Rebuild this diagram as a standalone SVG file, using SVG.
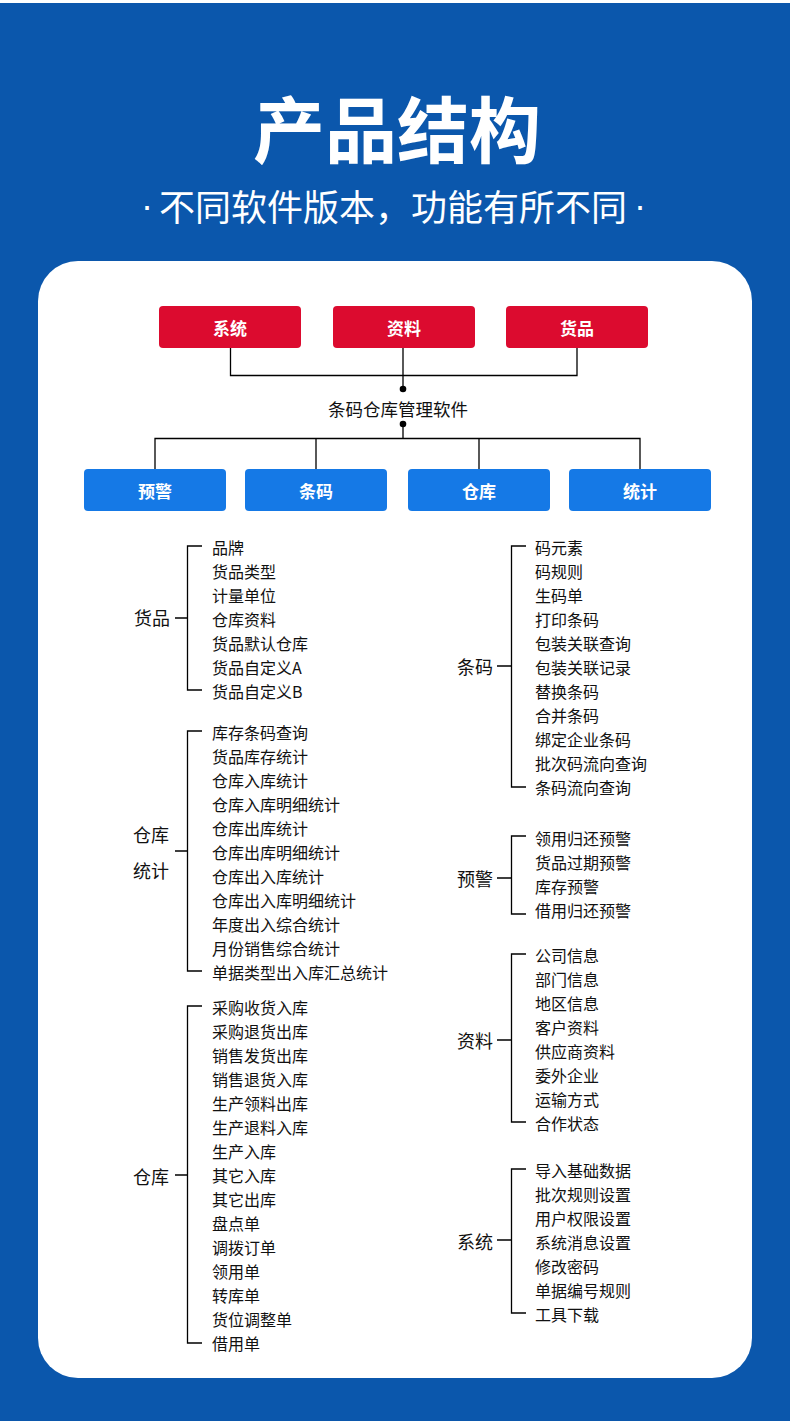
<svg xmlns="http://www.w3.org/2000/svg" width="790" height="1421" viewBox="0 0 790 1421">
<style>
.t{font-family:"Noto Sans CJK SC","Noto Sans",sans-serif;dominant-baseline:central}
.title{font-size:72px;font-weight:700;fill:#fff;text-anchor:middle}
.sub{font-size:36px;fill:#fff}
.dot{font-family:"Liberation Sans",sans-serif}
.bx{font-size:17px;font-weight:700;fill:#fff;text-anchor:middle}
.root{font-size:17.5px;fill:#111;text-anchor:middle}
.lab{font-size:18px;fill:#111}
.it{font-size:16px;fill:#111}
.red{fill:#DC0B2F}
.blue{fill:#1579E6}
.ln{stroke:#000;stroke-width:1.3;fill:none}
</style>
<rect x="0" y="0" width="790" height="1421" fill="#fff"/>
<rect x="0" y="3" width="790" height="1418" fill="#0B57AC"/>
<rect x="38" y="261" width="714" height="1117" rx="40" fill="#fff"/>
<text class="t title" x="397" y="125">产品结构</text>
<text class="t sub" x="141" y="205"><tspan class="dot">·</tspan><tspan dx="6">不同软件版本，功能有所不同</tspan><tspan class="dot" dx="7">·</tspan></text>

<g id="connectors">
<path class="ln" d="M230.5 348V375.5H577V348M403 348V389"/>
<circle cx="403" cy="389" r="3.3" fill="#000"/>
<circle cx="403" cy="424" r="3.3" fill="#000"/>
<path class="ln" d="M403 424V438.5M155 469V438.5H640V469M316 438.5V469M479 438.5V469"/>
<path class="ln" d="M175 618H187.5M202 546H187.5V690H202"/>
<path class="ln" d="M175 851H187.5M202 731H187.5V971H202"/>
<path class="ln" d="M175 1175H187.5M202 1006H187.5V1343H202"/>
<path class="ln" d="M497 666H511.5M526 546H511.5V787H526"/>
<path class="ln" d="M497 878H511.5M526 836H511.5V914H526"/>
<path class="ln" d="M497 1040H511.5M526 954H511.5V1122H526"/>
<path class="ln" d="M497 1240H511.5M526 1169H511.5V1313H526"/>
</g>

<g id="n-xitong"><rect class="red" x="159" y="306" width="142" height="42" rx="4"/><text class="t bx" x="230" y="327">系统</text></g>
<g id="n-ziliao"><rect class="red" x="333" y="306" width="142" height="42" rx="4"/><text class="t bx" x="404" y="327">资料</text></g>
<g id="n-huopin"><rect class="red" x="506" y="306" width="142" height="42" rx="4"/><text class="t bx" x="577" y="327">货品</text></g>
<g id="n-root"><text class="t root" x="398" y="408.5">条码仓库管理软件</text></g>
<g id="n-yujing"><rect class="blue" x="84" y="469" width="142" height="42" rx="4"/><text class="t bx" x="155" y="490">预警</text></g>
<g id="n-tiaoma"><rect class="blue" x="245" y="469" width="142" height="42" rx="4"/><text class="t bx" x="316" y="490">条码</text></g>
<g id="n-cangku"><rect class="blue" x="408" y="469" width="142" height="42" rx="4"/><text class="t bx" x="479" y="490">仓库</text></g>
<g id="n-tongji"><rect class="blue" x="569" y="469" width="142" height="42" rx="4"/><text class="t bx" x="640" y="490">统计</text></g>

<g id="tree-huopin">
<text class="t lab" x="134" y="617">货品</text>
<text class="t it">
<tspan x="212" y="546.5">品牌</tspan><tspan x="212" y="570.5">货品类型</tspan><tspan x="212" y="594.5">计量单位</tspan><tspan x="212" y="618.5">仓库资料</tspan><tspan x="212" y="642.5">货品默认仓库</tspan><tspan x="212" y="666.5">货品自定义A</tspan><tspan x="212" y="690.5">货品自定义B</tspan>
</text>
</g>

<g id="tree-cangkutongji">
<text class="t lab" x="133" y="834">仓库</text>
<text class="t lab" x="133" y="870">统计</text>
<text class="t it">
<tspan x="212" y="731.5">库存条码查询</tspan><tspan x="212" y="755.5">货品库存统计</tspan><tspan x="212" y="779.5">仓库入库统计</tspan><tspan x="212" y="803.5">仓库入库明细统计</tspan><tspan x="212" y="827.5">仓库出库统计</tspan><tspan x="212" y="851.5">仓库出库明细统计</tspan><tspan x="212" y="875.5">仓库出入库统计</tspan><tspan x="212" y="899.5">仓库出入库明细统计</tspan><tspan x="212" y="923.5">年度出入综合统计</tspan><tspan x="212" y="947.5">月份销售综合统计</tspan><tspan x="212" y="971.5">单据类型出入库汇总统计</tspan>
</text>
</g>

<g id="tree-cangku">
<text class="t lab" x="133" y="1176">仓库</text>
<text class="t it">
<tspan x="212" y="1006.5">采购收货入库</tspan><tspan x="212" y="1030.5">采购退货出库</tspan><tspan x="212" y="1054.5">销售发货出库</tspan><tspan x="212" y="1078.5">销售退货入库</tspan><tspan x="212" y="1102.5">生产领料出库</tspan><tspan x="212" y="1126.5">生产退料入库</tspan><tspan x="212" y="1150.5">生产入库</tspan><tspan x="212" y="1174.5">其它入库</tspan><tspan x="212" y="1198.5">其它出库</tspan><tspan x="212" y="1222.5">盘点单</tspan><tspan x="212" y="1246.5">调拨订单</tspan><tspan x="212" y="1270.5">领用单</tspan><tspan x="212" y="1294.5">转库单</tspan><tspan x="212" y="1318.5">货位调整单</tspan><tspan x="212" y="1342.5">借用单</tspan>
</text>
</g>

<g id="tree-tiaoma">
<text class="t lab" x="457" y="666">条码</text>
<text class="t it">
<tspan x="535" y="546.5">码元素</tspan><tspan x="535" y="570.5">码规则</tspan><tspan x="535" y="594.5">生码单</tspan><tspan x="535" y="618.5">打印条码</tspan><tspan x="535" y="642.5">包装关联查询</tspan><tspan x="535" y="666.5">包装关联记录</tspan><tspan x="535" y="690.5">替换条码</tspan><tspan x="535" y="714.5">合并条码</tspan><tspan x="535" y="738.5">绑定企业条码</tspan><tspan x="535" y="762.5">批次码流向查询</tspan><tspan x="535" y="786.5">条码流向查询</tspan>
</text>
</g>

<g id="tree-yujing">
<text class="t lab" x="457" y="878">预警</text>
<text class="t it">
<tspan x="535" y="837.5">领用归还预警</tspan><tspan x="535" y="861.5">货品过期预警</tspan><tspan x="535" y="885.5">库存预警</tspan><tspan x="535" y="909.5">借用归还预警</tspan>
</text>
</g>

<g id="tree-ziliao">
<text class="t lab" x="457" y="1040">资料</text>
<text class="t it">
<tspan x="535" y="954.5">公司信息</tspan><tspan x="535" y="978.5">部门信息</tspan><tspan x="535" y="1002.5">地区信息</tspan><tspan x="535" y="1026.5">客户资料</tspan><tspan x="535" y="1050.5">供应商资料</tspan><tspan x="535" y="1074.5">委外企业</tspan><tspan x="535" y="1098.5">运输方式</tspan><tspan x="535" y="1122.5">合作状态</tspan>
</text>
</g>

<g id="tree-xitong">
<text class="t lab" x="457" y="1241">系统</text>
<text class="t it">
<tspan x="535" y="1169.5">导入基础数据</tspan><tspan x="535" y="1193.5">批次规则设置</tspan><tspan x="535" y="1217.5">用户权限设置</tspan><tspan x="535" y="1241.5">系统消息设置</tspan><tspan x="535" y="1265.5">修改密码</tspan><tspan x="535" y="1289.5">单据编号规则</tspan><tspan x="535" y="1313.5">工具下载</tspan>
</text>
</g>
</svg>
